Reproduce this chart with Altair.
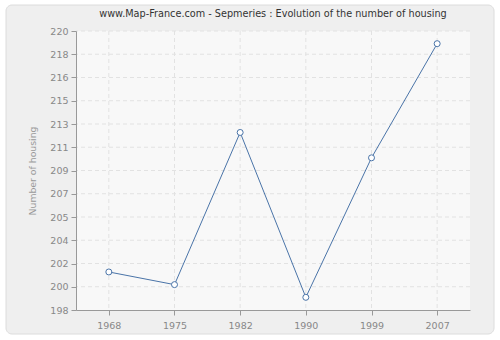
import altair as alt
import pandas as pd

years = ["1968", "1975", "1982", "1990", "1999", "2007"]
housing = [201, 200, 212, 199, 210, 219]
y_ticks = [198 + i * 22 / 12 for i in range(13)]

df = pd.DataFrame({"year": years, "housing": housing})
df_y = pd.DataFrame({"v": y_ticks[1:]})
df_x = pd.DataFrame({"year": years})

W, H = 394, 279
FONT = "DejaVu Sans"
GRID = "#e2e2e2"

x_scale = alt.Scale(type="point", padding=0.5, domain=years)
y_scale = alt.Scale(domain=[198, 220], nice=False, zero=False)

x_axis = alt.Axis(title=None, labelAngle=0, labelColor="#888", labelFont=FONT,
                  labelFontSize=9.5, domainColor="#999", tickColor="#999",
                  tickSize=5, labelPadding=5, grid=False, zindex=1)
y_axis = alt.Axis(title="Number of housing", values=y_ticks,
                  labelExpr="format(round(datum.value), 'd')",
                  labelColor="#888", labelFont=FONT, labelFontSize=9.5,
                  titleColor="#999", titleFont=FONT, titleFontSize=9.3,
                  titleFontWeight="normal", titlePadding=12,
                  domainColor="#999", tickColor="#999", tickSize=5,
                  labelPadding=3, grid=False, zindex=1)

frame = alt.Chart(pd.DataFrame({"a": [0]})).mark_rect(
    fill="#efefef", stroke="#dcdcdc", strokeWidth=1, cornerRadius=6
).encode(x=alt.value(-70), x2=alt.value(W + 24), y=alt.value(-26), y2=alt.value(H + 24))

plotbg = alt.Chart(pd.DataFrame({"a": [0]})).mark_rect(
    fill="#f8f8f8"
).encode(x=alt.value(0), x2=alt.value(W), y=alt.value(0), y2=alt.value(H))

hgrid = alt.Chart(df_y).mark_rule(color=GRID, strokeDash=[4, 3], strokeWidth=1).encode(
    y=alt.Y("v:Q", scale=y_scale, axis=y_axis))
vgrid = alt.Chart(df_x).mark_rule(color=GRID, strokeDash=[4, 3], strokeWidth=1).encode(
    x=alt.X("year:O", scale=x_scale, axis=x_axis))

x_enc = alt.X("year:O", scale=x_scale, axis=x_axis)
y_enc = alt.Y("housing:Q", scale=y_scale, axis=y_axis)

line = alt.Chart(df).mark_line(color="#4a74a8", strokeWidth=1).encode(x=x_enc, y=y_enc)
pts = alt.Chart(df).mark_point(shape="circle", size=36, filled=True, fill="white",
                               stroke="#4a74a8", strokeWidth=1, opacity=1).encode(x=x_enc, y=y_enc)

chart = alt.layer(frame, plotbg, hgrid, vgrid, line, pts).properties(
    width=W, height=H,
    title=alt.TitleParams("www.Map-France.com - Sepmeries : Evolution of the number of housing",
                          font=FONT, fontSize=9.7, fontWeight="normal", color="#333",
                          anchor="middle", offset=-14, zindex=1),
    padding={"left": 76, "top": 31, "right": 30, "bottom": 30},
    autosize=alt.AutoSizeParams(type="none"),
    background="white",
).configure_view(stroke=None)

chart.save("out.html", embed_options={"renderer": "svg", "actions": False})
